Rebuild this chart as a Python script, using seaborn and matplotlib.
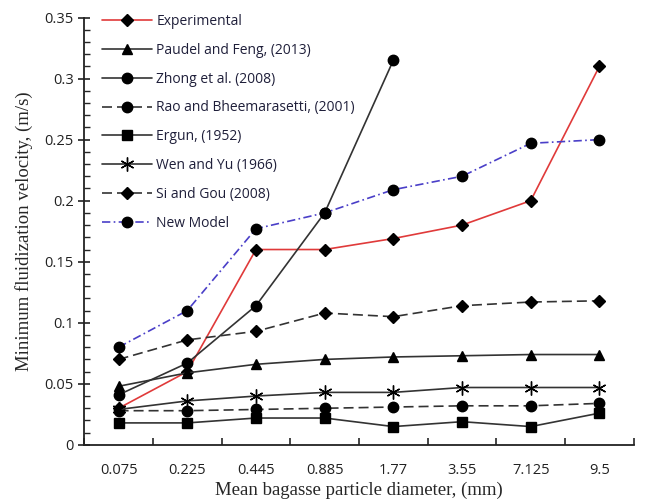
import seaborn as sns
import matplotlib.pyplot as plt
from matplotlib.ticker import MultipleLocator, FuncFormatter, FixedLocator, NullFormatter

# particle diameters (categorical axis)
diameters = ['0.075', '0.225', '0.445', '0.885', '1.77', '3.55', '7.125', '9.5']

experimental = [0.030, 0.060, 0.160, 0.160, 0.169, 0.180, 0.200, 0.310]
paudel_feng = [0.048, 0.059, 0.066, 0.070, 0.072, 0.073, 0.074, 0.074]
zhong = [0.041, 0.067, 0.114, 0.190, 0.315]
rao = [0.028, 0.028, 0.029, 0.030, 0.031, 0.032, 0.032, 0.034]
ergun = [0.018, 0.018, 0.022, 0.022, 0.015, 0.019, 0.015, 0.026]
wen_yu = [0.029, 0.036, 0.040, 0.043, 0.043, 0.047, 0.047, 0.047]
si_gou = [0.070, 0.086, 0.093, 0.108, 0.105, 0.114, 0.117, 0.118]
new_model = [0.080, 0.110, 0.177, 0.190, 0.209, 0.220, 0.247, 0.250]

series = [
    ('Experimental', experimental, '#e03a3a', '-', 'D', 6),
    ('Paudel and Feng, (2013)', paudel_feng, '#333333', '-', '^', 7.5),
    ('Zhong et al. (2008)', zhong, '#333333', '-', 'o', 7.5),
    ('Rao and Bheemarasetti, (2001)', rao, '#333333', (0, (6, 3)), 'o', 7.5),
    ('Ergun, (1952)', ergun, '#333333', '-', 's', 7.5),
    ('Wen and Yu (1966)', wen_yu, '#333333', '-', (6, 2, 0), 10),
    ('Si and Gou (2008)', si_gou, '#333333', (0, (6, 3)), 'D', 6.5),
    ('New Model', new_model, '#4a3fc8', (0, (5, 2, 1, 2)), 'o', 7.5),
]

sns.set_style('ticks')
plt.rcParams['font.family'] = ['Open Sans', 'DejaVu Sans']

fig = plt.figure(figsize=(6.48, 5.01), dpi=100)
ax = fig.add_axes([0.13, 0.112, 0.848, 0.853])

for name, vals, color, ls, marker, ms in series:
    sns.lineplot(x=diameters[:len(vals)], y=vals, ax=ax, color=color, linestyle=ls,
                 marker=marker, markersize=ms, markerfacecolor='black',
                 markeredgecolor='black', markeredgewidth=1.0, linewidth=1.2,
                 label=name, sort=False)

ax.set_xlim(-0.5, 7.5)
ax.set_ylim(0, 0.35)
ax.yaxis.set_major_locator(MultipleLocator(0.05))
ax.yaxis.set_minor_locator(MultipleLocator(0.01))
ax.yaxis.set_major_formatter(FuncFormatter(lambda v, p: '%g' % round(v, 3)))

# Excel style category axis: ticks between categories
ax.set_xticks(range(len(diameters)))
ax.set_xticklabels(diameters)
ax.tick_params(axis='x', which='major', length=0, pad=13)
ax.xaxis.set_minor_locator(FixedLocator([i + 0.5 for i in range(-1, len(diameters))]))
ax.xaxis.set_minor_formatter(NullFormatter())
ax.tick_params(axis='x', which='minor', length=5, direction='in', width=1.2)
ax.tick_params(axis='y', which='major', length=8, direction='inout', width=1.2)
ax.tick_params(axis='y', which='minor', length=4, direction='in', width=1.0)
ax.tick_params(labelsize=10.5, colors='#222222')

for s in ['left', 'bottom']:
    ax.spines[s].set_linewidth(1.3)
    ax.spines[s].set_color('#222222')
sns.despine(ax=ax)

ax.set_xlabel('Mean bagasse particle diameter, (mm)', family='Liberation Serif', fontsize=13.5, labelpad=3)
ax.set_ylabel('Minimum fluidization velocity, (m/s)', family='Liberation Serif', fontsize=13.5, labelpad=8)

leg = ax.legend(loc='upper left', bbox_to_anchor=(0.01, 1.038), frameon=False, fontsize=10,
                handlelength=3.6, labelspacing=1.0, handletextpad=0.3)
for t in leg.get_texts():
    t.set_color('#1f1f3a')

fig.savefig('out.png', dpi=100)
